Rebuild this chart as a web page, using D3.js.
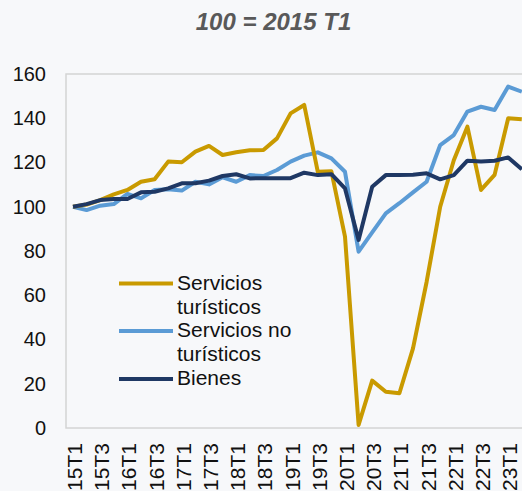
<!DOCTYPE html>
<html>
<head>
<meta charset="utf-8">
<script src="https://cdn.jsdelivr.net/npm/d3@7"></script>
<style>
  html, body { margin: 0; padding: 0; background: #f7f8fa; overflow: hidden; }
  svg { display: block; font-family: "Liberation Sans", Arial, sans-serif; }
</style>
</head>
<body>
<svg id="chart" width="522" height="491"></svg>
<script>
const quarters = ["15T1","15T2","15T3","15T4","16T1","16T2","16T3","16T4",
  "17T1","17T2","17T3","17T4","18T1","18T2","18T3","18T4",
  "19T1","19T2","19T3","19T4","20T1","20T2","20T3","20T4",
  "21T1","21T2","21T3","21T4","22T1","22T2","22T3","22T4",
  "23T1","23T2"];
const serviciosTuristicos = [100,101,103,105.6,107.6,111.3,112.4,120.4,
  120.1,124.9,127.5,123.4,124.6,125.5,125.6,130.9,
  142.2,146,115.8,116,86.5,1.4,21.4,16.4,
  15.7,36,66,100,121,136.2,107.6,114.4,
  140,139.5];
const serviciosNoTuristicos = [100,98.5,100.5,101.2,105.8,103.8,107.6,107.9,
  107.3,111.3,110.1,113.3,111.3,114.3,113.9,116.6,
  120.4,123.1,124.6,121.9,115.8,79.7,88.4,97,
  101.6,106.5,111.3,127.9,132.4,143,145.2,143.7,
  154.3,152];
const bienes = [100,101.2,103,103.5,103.5,106.5,106.8,108.3,
  110.6,110.6,111.8,113.9,114.7,112.8,112.9,112.9,
  112.9,115.4,114.3,114.7,108.3,85,109,114.3,
  114.3,114.5,115.1,112.4,114.3,120.8,120.4,120.8,
  122.3,116.9];
const yTicks = [0,20,40,60,80,100,120,140,160];
const xTickLabels = quarters.filter(q => q.endsWith("T1") || q.endsWith("T3"));
const seriesNames = ["Servicios turísticos", "Servicios no turísticos", "Bienes"];
const seriesColors = ["#c99a00", "#5b9bd5", "#1f3864"];
const legendLines = [["Servicios","turísticos"],["Servicios no","turísticos"],["Bienes"]];
const titleText = "100 = 2015 T1";

(function () {
const svg = d3.select("#chart");
const plotLeft = 66, plotTop = 74, plotBottom = 428;

const x = d3.scalePoint().domain(quarters).range([73, 521.8]);
const y = d3.scaleLinear().domain([0, 160]).range([plotBottom, plotTop]);

// title
svg.append("text")
  .attr("x", 273.5).attr("y", 30)
  .attr("text-anchor", "middle")
  .attr("font-size", 24).attr("font-weight", "bold").attr("font-style", "italic")
  .attr("fill", "#595959")
  .text(titleText);

// plot frame
svg.append("rect")
  .attr("x", plotLeft).attr("y", plotTop)
  .attr("width", 600).attr("height", plotBottom - plotTop)
  .attr("fill", "none").attr("stroke", "#d4d4d4").attr("stroke-width", 1.5);

// y axis
const yAxis = svg.append("g")
  .attr("transform", `translate(${plotLeft - 20},0)`)
  .call(d3.axisLeft(y).tickValues(yTicks).tickSize(0).tickPadding(0));
yAxis.select(".domain").remove();
yAxis.selectAll("text").attr("font-size", 20).attr("fill", "#111")
  .attr("font-family", "Liberation Sans, Arial, sans-serif");

// x axis
const xAxis = svg.append("g")
  .attr("transform", `translate(0,${plotBottom})`)
  .call(d3.axisBottom(x).tickValues(xTickLabels).tickSize(0));
xAxis.select(".domain").remove();
xAxis.selectAll("text")
  .attr("font-size", 21).attr("fill", "#111")
  .attr("font-family", "Liberation Sans, Arial, sans-serif")
  .attr("text-anchor", "end")
  .attr("transform", "rotate(-90)")
  .attr("x", -15).attr("y", 1).attr("dy", "0.36em");

// lines
const allSeries = [serviciosTuristicos, serviciosNoTuristicos, bienes];
const line = d3.line().x((d, i) => x(quarters[i])).y(d => y(d));
const order = [1, 0, 2];
order.forEach(k => {
  svg.append("path")
    .datum(allSeries[k])
    .attr("d", line)
    .attr("fill", "none")
    .attr("stroke", seriesColors[k])
    .attr("stroke-width", 4)
    .attr("stroke-linejoin", "round");
});

// legend
const legendY = [283.5, 331, 379];
const legend = svg.append("g");
seriesNames.forEach((name, k) => {
  legend.append("line")
    .attr("x1", 119).attr("x2", 173)
    .attr("y1", legendY[k]).attr("y2", legendY[k])
    .attr("stroke", seriesColors[k]).attr("stroke-width", 4);
  const t = legend.append("text")
    .attr("x", 177).attr("y", legendY[k] + 6)
    .attr("font-size", 21).attr("fill", "#111");
  legendLines[k].forEach((ln, j) => {
    t.append("tspan").attr("x", 177).attr("dy", j === 0 ? 0 : 24).text(ln);
  });
});
})();
</script>
</body>
</html>
